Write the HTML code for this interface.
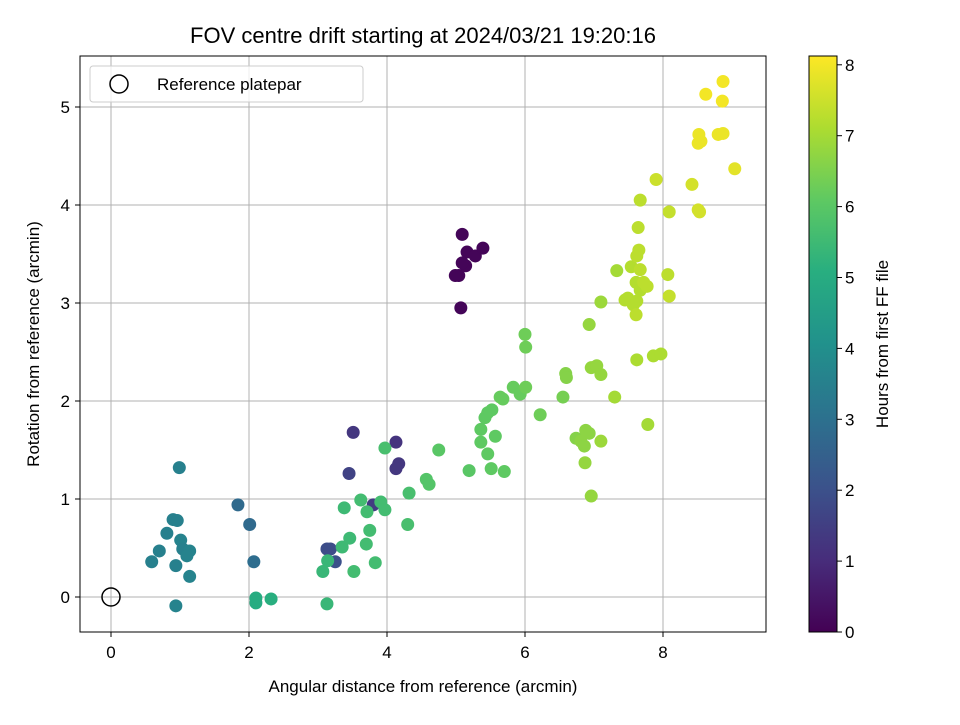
<!DOCTYPE html>
<html><head><meta charset="utf-8"><style>
body{margin:0;background:#fff}
svg text{font-family:"Liberation Sans","DejaVu Sans",sans-serif;fill:#000}
</style></head><body>
<svg id="chart" width="960" height="720" viewBox="0 0 960 720">
<defs><linearGradient id="vir" x1="0" y1="1" x2="0" y2="0"></linearGradient></defs>
<rect x="0" y="0" width="960" height="720" fill="#fff"/>
<text x="423" y="43" font-size="22" text-anchor="middle">FOV centre drift starting at 2024/03/21 19:20:16</text>
<g id="grid"></g>
<g id="ticks"></g>
<g id="pts"></g>
<rect x="80" y="56" width="686" height="576" fill="none" stroke="#000" stroke-width="1"/>
<text x="423" y="692" font-size="17" text-anchor="middle">Angular distance from reference (arcmin)</text>
<text transform="translate(39,344) rotate(-90)" font-size="17" text-anchor="middle">Rotation from reference (arcmin)</text>
<g>
<rect x="90" y="66" width="273" height="36" rx="3" fill="#fff" fill-opacity="0.8" stroke="#ccc"/>
<circle cx="119" cy="84" r="9" fill="none" stroke="#000" stroke-width="1.5"/>
<text x="157" y="90" font-size="17">Reference platepar</text>
</g>
<rect x="809" y="56" width="28" height="576" fill="url(#vir)" stroke="#000" stroke-width="1"/>
<g id="cticks"></g>
<text transform="translate(888,344) rotate(-90)" font-size="17" text-anchor="middle">Hours from first FF file</text>
</svg>
<script>
const xs=[5.09,5.16,5.28,5.04,4.99,5.07,5.14,5.39,5.09,
3.51,4.13,4.17,4.13,3.45,3.80,3.25,3.13,3.18,
1.84,2.01,2.07,
0.99,0.90,0.96,0.81,1.01,0.70,0.59,1.04,1.14,1.10,0.94,1.14,0.94,
2.10,2.10,2.32,3.13,
3.07,3.14,3.35,3.46,3.38,3.62,3.71,3.75,3.70,3.83,3.52,3.91,3.97,3.97,4.32,4.30,4.57,4.61,4.75,5.19,
5.36,5.36,5.42,5.46,5.52,5.46,5.51,5.57,5.70,5.64,5.68,5.83,5.93,6.01,6.01,6.00,6.22,6.55,
6.59,6.60,6.74,6.81,6.86,6.88,6.93,6.87,6.96,6.93,6.96,7.04,7.10,7.10,7.10,7.30,7.33,
7.45,7.49,7.57,7.62,7.54,7.61,7.67,7.72,7.77,7.67,7.62,7.65,7.64,7.67,7.61,7.62,7.86,7.97,7.78,8.07,8.09,8.09,7.90,
8.42,8.51,8.53,8.51,8.55,8.52,8.62,8.80,8.87,8.86,8.87,9.04];
const ys=[3.70,3.52,3.48,3.28,3.28,2.95,3.38,3.56,3.41,
1.68,1.58,1.36,1.31,1.26,0.94,0.36,0.49,0.49,
0.94,0.74,0.36,
1.32,0.79,0.78,0.65,0.58,0.47,0.36,0.49,0.47,0.42,0.32,0.21,-0.09,
-0.01,-0.06,-0.02,-0.07,
0.26,0.37,0.51,0.60,0.91,0.99,0.87,0.68,0.54,0.35,0.26,0.97,0.89,1.52,1.06,0.74,1.20,1.15,1.50,1.29,
1.58,1.71,1.83,1.88,1.91,1.46,1.31,1.64,1.28,2.04,2.02,2.14,2.07,2.14,2.55,2.68,1.86,2.04,
2.28,2.24,1.62,1.59,1.54,1.70,1.67,1.37,1.03,2.78,2.34,2.36,2.27,3.01,1.59,2.04,3.33,
3.03,3.05,2.98,3.02,3.37,3.21,3.13,3.21,3.17,3.34,3.48,3.54,3.77,4.05,2.88,2.42,2.46,2.48,1.76,3.29,3.93,3.07,4.26,
4.21,3.95,3.93,4.63,4.65,4.72,5.13,4.72,4.73,5.06,5.26,4.37];
const hours=[0.1,0.1,0.1,0.1,0.1,0.1,0.1,0.1,0.1,
1.3,1.2,1.3,1.3,1.6,1.4,2.0,1.9,1.9,
2.8,2.8,2.9,
3.5,3.5,3.5,3.5,3.6,3.5,3.5,3.5,3.6,3.6,3.5,3.6,3.6,
5.0,5.0,5.1,5.4,
5.4,5.4,5.5,5.5,5.5,5.6,5.6,5.6,5.6,5.6,5.6,5.6,5.6,5.7,5.7,5.7,5.9,5.9,6.0,6.0,
6.1,6.1,6.1,6.1,6.1,6.1,6.1,6.1,6.1,6.2,6.2,6.2,6.2,6.3,6.3,6.3,6.3,6.4,
6.6,6.6,6.6,6.7,6.7,6.7,6.7,6.8,6.8,6.8,6.8,6.8,6.8,6.9,6.9,7.0,7.0,
7.2,7.2,7.2,7.2,7.2,7.2,7.2,7.3,7.3,7.3,7.3,7.3,7.3,7.3,7.3,7.1,7.1,7.1,7.0,7.3,7.4,7.4,7.5,
7.6,7.6,7.6,7.9,7.9,7.9,8.0,7.9,7.9,8.0,8.0,7.8];
const xTicks=[0,2,4,6,8];
const yTicks=[0,1,2,3,4,5];
const cTicks=[0,1,2,3,4,5,6,7,8];
const X=v=>111+v*69, Y=v=>597-v*98, C=v=>632-v*70.9;
const vstops=[[0,"#440154"],[0.125,"#472d7b"],[0.25,"#3b528b"],[0.375,"#2c728e"],[0.5,"#21918c"],[0.625,"#28ae80"],[0.75,"#5ec962"],[0.875,"#addc30"],[1,"#fde725"]];
function hx(c){return [1,3,5].map(i=>parseInt(c.substr(i,2),16));}
function vir(t){t=Math.max(0,Math.min(1,t));for(let i=1;i<vstops.length;i++){if(t<=vstops[i][0]){const a=vstops[i-1],b=vstops[i];const f=(t-a[0])/(b[0]-a[0]);const A=hx(a[1]),B=hx(b[1]);return "rgb("+A.map((v,k)=>Math.round(v+(B[k]-v)*f)).join(",")+")";}}return vstops[8][1];}
const NS="http://www.w3.org/2000/svg";
function mk(t,p,a){const e=document.createElementNS(NS,t);for(const k in a)e.setAttribute(k,a[k]);p.appendChild(e);return e;}
const g=document.getElementById("grid"),tk=document.getElementById("ticks"),pts=document.getElementById("pts"),ct=document.getElementById("cticks");
const hmax=8.13;
const grad=document.getElementById("vir");
vstops.forEach(s=>{const st=mk("stop",grad,{offset:s[0],"stop-color":s[1]});

});
xTicks.forEach(v=>{
const l=mk("line",g,{x1:X(v),x2:X(v),y1:56,y2:632,stroke:"#b0b0b0","stroke-width":1});


const t=mk("line",tk,{x1:X(v),x2:X(v),y1:632,y2:637,stroke:"#000"});


const tx=mk("text",tk,{x:X(v),y:658,"font-size":17,"text-anchor":"middle"});tx.textContent=v;

});
yTicks.forEach(v=>{
const l=mk("line",g,{x1:80,x2:766,y1:Y(v),y2:Y(v),stroke:"#b0b0b0","stroke-width":1});


const t=mk("line",tk,{x1:75,x2:80,y1:Y(v),y2:Y(v),stroke:"#000"});


const tx=mk("text",tk,{x:70,y:Y(v)+6,"font-size":17,"text-anchor":"end"});tx.textContent=v;

});
const ref=mk("circle",pts,{cx:X(0),cy:Y(0),r:9,fill:"none",stroke:"#000","stroke-width":1.5});


xs.forEach((v,i)=>{const c=mk("circle",pts,{cx:X(v),cy:Y(ys[i]),r:6.5,fill:vir(hours[i]/hmax)});

});
cTicks.forEach(v=>{
const t=mk("line",ct,{x1:837,x2:842,y1:C(v),y2:C(v),stroke:"#000"});


const tx=mk("text",ct,{x:845,y:C(v)+6,"font-size":17});tx.textContent=v;

});
</script>
</body></html>
